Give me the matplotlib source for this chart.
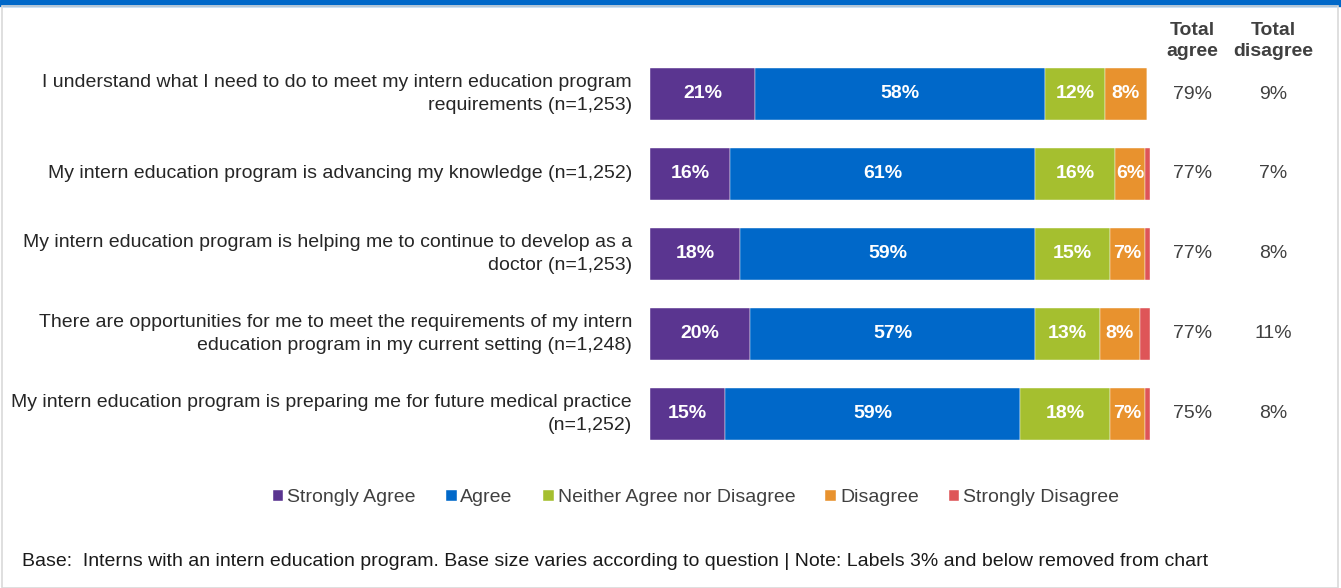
import matplotlib
matplotlib.use("Agg")
import matplotlib.pyplot as plt
from matplotlib.patches import Rectangle

plt.rcParams['font.family'] = ['Liberation Sans', 'DejaVu Sans']

categories = [
    "I understand what I need to do to meet my intern education program\nrequirements (n=1,253)",
    "My intern education program is advancing my knowledge (n=1,252)",
    "My intern education program is helping me to continue to develop as a\ndoctor (n=1,253)",
    "There are opportunities for me to meet the requirements of my intern\neducation program in my current setting (n=1,248)",
    "My intern education program is preparing me for future medical practice\n(n=1,252)",
]
series_names = ["Strongly Agree", "Agree", "Neither Agree nor Disagree", "Disagree", "Strongly Disagree"]
strongly_agree = [21, 16, 18, 20, 15]
agree = [58, 61, 59, 57, 59]
neither = [12, 16, 15, 13, 18]
disagree = [8.4, 6, 7, 8, 7]
strongly_disagree = [0, 1, 1, 2, 1]
total_agree = ["79%", "77%", "77%", "77%", "75%"]
total_disagree = ["9%", "7%", "8%", "11%", "8%"]
colors = ["#5a3590", "#0068c9", "#a5bf2f", "#e8922e", "#de5558"]

W, H = 1341, 588
fig = plt.figure(figsize=(W / 100, H / 100), dpi=100)

# frame and top band
fig.add_artist(Rectangle((0, 1 - 6 / H), 1, 6 / H, transform=fig.transFigure, color="#0068c9", zorder=0))
fig.add_artist(Rectangle((1.5 / W, 0), (W - 5) / W, 1 - 6 / H, transform=fig.transFigure,
                         fill=False, edgecolor="#d9d9d9", lw=1.2, zorder=0))

ax = fig.add_axes([650 / W, 1 - 454 / H, 500 / W, 400 / H])
ax.set_xlim(0, 100)
ax.set_ylim(4.5, -0.5)
ax.axis("off")

series = [strongly_agree, agree, neither, disagree, strongly_disagree]
y = list(range(len(categories)))
left = [0.0] * len(categories)
handles = []
for name, vals, col in zip(series_names, series, colors):
    bars = ax.barh(y, vals, left=left, height=0.65, color=col, edgecolor="white", linewidth=0.3, label=name)
    handles.append(bars)
    for i, v in enumerate(vals):
        if round(v) > 3:
            ax.text(left[i] + v / 2, i, f"{round(v)}%", ha="center", va="center",
                    color="white", fontsize=14, fontweight="bold")
    left = [l + v for l, v in zip(left, vals)]

for i, cat in enumerate(categories):
    ax.text(-3.6, i, cat, ha="right", va="center", fontsize=14, color="#262626", linespacing=1.5)
    fig.text(1193 / W, 1 - (94 + 80 * i) / H, total_agree[i], ha="center", va="center", fontsize=14, color="#404040")
    fig.text(1273 / W, 1 - (94 + 80 * i) / H, total_disagree[i], ha="center", va="center", fontsize=14, color="#404040")

fig.text(1192 / W, 1 - 41 / H, "Total\nagree", ha="center", va="center", fontsize=14,
         fontweight="bold", color="#404040", linespacing=1.35)
fig.text(1273 / W, 1 - 41 / H, "Total\ndisagree", ha="center", va="center", fontsize=14,
         fontweight="bold", color="#404040", linespacing=1.35)

fig.legend(handles=handles, labels=series_names, loc="center", bbox_to_anchor=(696 / W, 1 - 498 / H),
           ncol=5, frameon=False, fontsize=14, handlelength=0.55, handleheight=0.55,
           handletextpad=0.2, columnspacing=1.55, labelcolor="#404040")

fig.text(22 / W, 1 - 562 / H,
         "Base:  Interns with an intern education program. Base size varies according to question | Note: Labels 3% and below removed from chart",
         ha="left", va="center", fontsize=14, color="#1a1a1a")

fig.savefig("out.png", dpi=100, facecolor="white")
